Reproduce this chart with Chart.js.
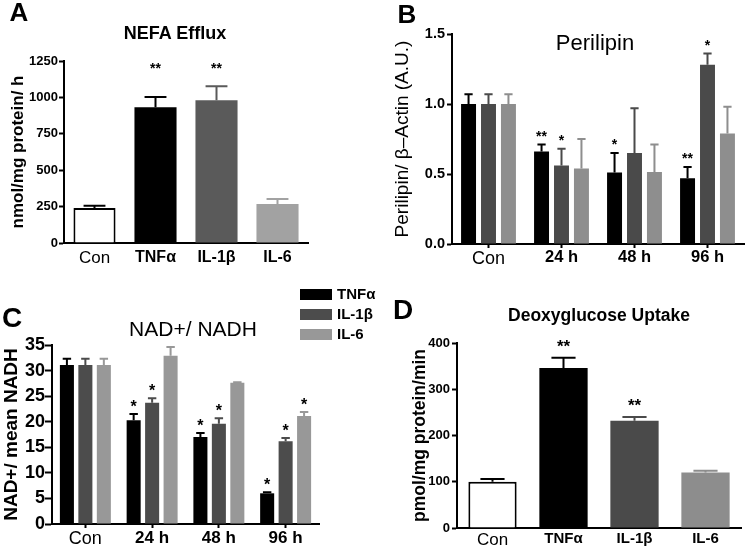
<!DOCTYPE html>
<html>
<head>
<meta charset="utf-8">
<script src="https://cdn.jsdelivr.net/npm/chart.js@4.4.1/dist/chart.umd.min.js"></script>
<style>
  body { margin: 0; width: 745px; height: 549px; background: #fff; position: relative; overflow: hidden;
         font-family: "Liberation Sans", Arial, sans-serif; color: #000; }
  canvas { position: absolute; }
  .t { position: absolute; white-space: nowrap; line-height: 1; transform: translate(-50%, -50%); }
  .b { font-weight: bold; }
  .key { position: absolute; font-weight: bold; font-size: 15px; line-height: 1; white-space: nowrap; }
  .key span { display: inline-block; width: 32px; height: 11px; margin-right: 5px; vertical-align: -1px; }
</style>
</head>
<body>
<canvas id="chartA" width="372" height="275" style="left:0;top:0"></canvas>
<canvas id="chartB" width="373" height="275" style="left:372px;top:0"></canvas>
<canvas id="chartC" width="372" height="274" style="left:0;top:275px"></canvas>
<canvas id="chartD" width="373" height="274" style="left:372px;top:275px"></canvas>

<div class="t b" style="left:19px;top:12px;font-size:26px">A</div>
<div class="t b" style="left:407px;top:14px;font-size:26px">B</div>
<div class="t b" style="left:12px;top:318px;font-size:28px">C</div>
<div class="t b" style="left:403px;top:310px;font-size:28px">D</div>

<div class="t b" style="left:175px;top:33px;font-size:18px">NEFA Efflux</div>
<div class="t" style="left:595px;top:43px;font-size:22px">Perilipin</div>
<div class="t" style="left:193px;top:328px;font-size:21px">NAD+/ NADH</div>
<div class="t b" style="left:599px;top:316px;font-size:17.5px">Deoxyglucose Uptake</div>

<div id="legendC"></div>

<script>
// A: NEFA efflux (single series, one bar per treatment)
const treatLabels = ['Con', 'TNFα', 'IL-1β', 'IL-6'];
const nefaMean = [240, 932, 980, 268];
const nefaSem = [15, 71, 96, 34];
const nefaStars = ['', '**', '**', ''];

// B, C: time course
const timeLabels = ['Con', '24 h', '48 h', '96 h'];
const seriesNames = ['TNFα', 'IL-1β', 'IL-6'];

const perilipinTnf = [1.0, 0.66, 0.51, 0.47];
const perilipinTnfSem = [0.07, 0.05, 0.14, 0.08];
const perilipinIl1 = [1.0, 0.56, 0.65, 1.28];
const perilipinIl1Sem = [0.07, 0.12, 0.32, 0.08];
const perilipinIl6 = [1.0, 0.54, 0.515, 0.79];
const perilipinIl6Sem = [0.07, 0.21, 0.195, 0.19];
const perilipinStars = [['', '**', '*', '**'], ['', '*', '', '*'], ['', '', '', '']];

const nadTnf = [31.1, 20.3, 17.0, 6.0];
const nadTnfSem = [1.2, 1.2, 0.8, 0.2];
const nadIl1 = [31.1, 23.7, 19.6, 16.2];
const nadIl1Sem = [1.2, 0.9, 1.1, 0.6];
const nadIl6 = [31.1, 32.9, 27.6, 21.1];
const nadIl6Sem = [1.2, 1.7, 0.1, 0.8];
const nadStars = [['', '*', '*', '*'], ['', '*', '*', '*'], ['', '', '', '*']];

// D: deoxyglucose uptake
const dgMean = [100, 346, 232, 120];
const dgSem = [6, 22, 8, 4];
const dgStars = ['', '**', '**', ''];

const FONT = '"Liberation Sans", Arial, sans-serif';
const greysA = ['#ffffff', '#000000', '#5a5a5a', '#a2a2a2'];
const greysB = ['#000000', '#4a4a4a', '#8e8e8e'];
const greysC = ['#000000', '#4c4c4c', '#989898'];
const greysD = ['#ffffff', '#000000', '#4a4a4a', '#8d8d8d'];

// error bars (upper half only) + significance stars
const errorBars = {
  id: 'errorBars',
  afterDatasetsDraw(chart, args, opts) {
    const ctx = chart.ctx;
    const y = chart.scales.y;
    chart.data.datasets.forEach((ds, di) => {
      chart.getDatasetMeta(di).data.forEach((bar, i) => {
        const top = y.getPixelForValue(ds.data[i] + ds.sem[i]);
        const col = Array.isArray(ds.whisker) ? ds.whisker[i] : ds.whisker;
        const half = bar.width * opts.cap / 2;
        ctx.save();
        ctx.strokeStyle = col;
        ctx.lineWidth = opts.lineWidth;
        ctx.beginPath();
        ctx.moveTo(bar.x, bar.y);
        ctx.lineTo(bar.x, top);
        ctx.moveTo(bar.x - half, top);
        ctx.lineTo(bar.x + half, top);
        ctx.stroke();
        const star = ds.stars[i];
        if (star) {
          ctx.fillStyle = '#000';
          ctx.font = opts.starFont;
          ctx.textAlign = 'center';
          ctx.textBaseline = 'alphabetic';
          const sy = opts.starLevel != null ? y.getPixelForValue(opts.starLevel) : top - opts.starGap;
          ctx.fillText(star, bar.x, sy);
        }
        ctx.restore();
      });
    });
  }
};

function yAxis(o) {
  return {
    min: o.min, max: o.max,
    ticks: { stepSize: o.step, color: '#000', padding: o.pad, font: { family: FONT, size: o.tickSize, weight: 'bold' },
             callback: o.fmt || (v => v) },
    grid: { drawOnChartArea: false, tickLength: o.tickLen, tickWidth: 2, tickColor: '#000' },
    border: { color: '#000', width: 2 },
    title: { display: true, text: o.title, color: '#000', padding: 0,
             font: { family: FONT, size: o.titleSize, weight: o.titleBold ? 'bold' : 'normal' } },
    afterFit: s => { s.width = o.width; }
  };
}

function xAxis(o) {
  return {
    ticks: { color: '#000', padding: o.pad, maxRotation: 0, autoSkip: false,
             font: c => c.index === 0 ? { family: FONT, size: o.conSize } : { family: FONT, size: o.size, weight: 'bold' } },
    grid: { drawOnChartArea: false, offset: false, drawTicks: o.ticks, tickLength: 4, tickWidth: 2, tickColor: '#000' },
    border: { color: '#000', width: 2 },
    afterFit: s => { s.height = o.height; }
  };
}

function baseOptions(padding, x, y, bars) {
  return {
    responsive: false,
    animation: false,
    layout: { padding },
    plugins: { legend: { display: false }, tooltip: { enabled: false }, title: { display: false }, errorBars: bars },
    scales: { x, y }
  };
}

// A
new Chart(document.getElementById('chartA'), {
  type: 'bar',
  data: {
    labels: treatLabels,
    datasets: [{
      data: nefaMean, sem: nefaSem, stars: nefaStars,
      backgroundColor: greysA, whisker: ['#000', '#000', greysA[2], greysA[3]],
      borderColor: '#000', borderWidth: [2, 0, 0, 0],
      barPercentage: 0.69, categoryPercentage: 1
    }]
  },
  options: baseOptions({ left: 7.8, top: 61, right: 64, bottom: 0 },
    xAxis({ pad: 5, conSize: 17, size: 16, ticks: false, height: 32 }),
    yAxis({ min: 0, max: 1250, step: 250, pad: 1, tickLen: 5, tickSize: 13, title: 'nmol/mg protein/ h',
            titleSize: 17, titleBold: true, width: 56.2 }),
    { cap: 0.52, lineWidth: 2, starFont: 'bold 14px ' + FONT, starLevel: 1170 }),
  plugins: [errorBars]
});

// B
const perMeans = [perilipinTnf, perilipinIl1, perilipinIl6];
const perSems = [perilipinTnfSem, perilipinIl1Sem, perilipinIl6Sem];
new Chart(document.getElementById('chartB'), {
  type: 'bar',
  data: {
    labels: timeLabels,
    datasets: seriesNames.map((n, k) => ({
      label: n, data: perMeans[k], sem: perSems[k], stars: perilipinStars[k],
      backgroundColor: greysB[k], whisker: greysB[k],
      barPercentage: 0.75, categoryPercentage: 0.82
    }))
  },
  options: baseOptions({ left: 19.6, top: 34, right: 1, bottom: 0 },
    xAxis({ pad: 0, conSize: 18, size: 16.5, ticks: true, height: 31 }),
    yAxis({ min: 0, max: 1.5, step: 0.5, pad: 2, tickLen: 5, tickSize: 14.5, title: 'Perilipin/ β–Actin (A.U.)',
            titleSize: 19, titleBold: false, width: 60.4, fmt: v => v.toFixed(1) }),
    { cap: 0.55, lineWidth: 2, starFont: 'bold 14px ' + FONT, starGap: 4 }),
  plugins: [errorBars]
});

// C
const nadMeans = [nadTnf, nadIl1, nadIl6];
const nadSems = [nadTnfSem, nadIl1Sem, nadIl6Sem];
new Chart(document.getElementById('chartC'), {
  type: 'bar',
  data: {
    labels: timeLabels,
    datasets: seriesNames.map((n, k) => ({
      label: n, data: nadMeans[k], sem: nadSems[k], stars: nadStars[k],
      backgroundColor: greysC[k], whisker: greysC[k],
      barPercentage: 0.76, categoryPercentage: 0.83
    }))
  },
  options: baseOptions({ left: 0.6, top: 70, right: 53, bottom: 0 },
    xAxis({ pad: 0, conSize: 18, size: 17, ticks: true, height: 25 }),
    yAxis({ min: 0, max: 35, step: 5, pad: 0, tickLen: 7, tickSize: 18, title: 'NAD+/ mean NADH',
            titleSize: 19, titleBold: true, width: 51.4 }),
    { cap: 0.6, lineWidth: 2, starFont: 'bold 16px ' + FONT, starGap: 2 }),
  plugins: [errorBars]
});

// D
new Chart(document.getElementById('chartD'), {
  type: 'bar',
  data: {
    labels: treatLabels,
    datasets: [{
      data: dgMean, sem: dgSem, stars: dgStars,
      backgroundColor: greysD, whisker: ['#000', '#000', greysD[2], greysD[3]],
      borderColor: '#000', borderWidth: [2, 0, 0, 0],
      barPercentage: 0.68, categoryPercentage: 1
    }]
  },
  options: baseOptions({ left: 37.5, top: 68, right: 4, bottom: 0 },
    xAxis({ pad: 2, conSize: 17, size: 15, ticks: false, height: 21 }),
    yAxis({ min: 0, max: 400, step: 100, pad: 2, tickLen: 5, tickSize: 13, title: 'pmol/mg protein/min',
            titleSize: 17.5, titleBold: true, width: 47.5 }),
    { cap: 0.5, lineWidth: 2, starFont: 'bold 17px ' + FONT, starGap: 6 }),
  plugins: [errorBars]
});

// legend for panel C, built from the series names and colours
const legend = document.getElementById('legendC');
seriesNames.forEach((n, k) => {
  const row = document.createElement('div');
  row.className = 'key';
  row.style.left = '300px';
  row.style.top = (286 + k * 20) + 'px';
  row.innerHTML = '<span style="background:' + greysC[k] + '"></span>' + n;
  legend.appendChild(row);
});
</script>
</body>
</html>
